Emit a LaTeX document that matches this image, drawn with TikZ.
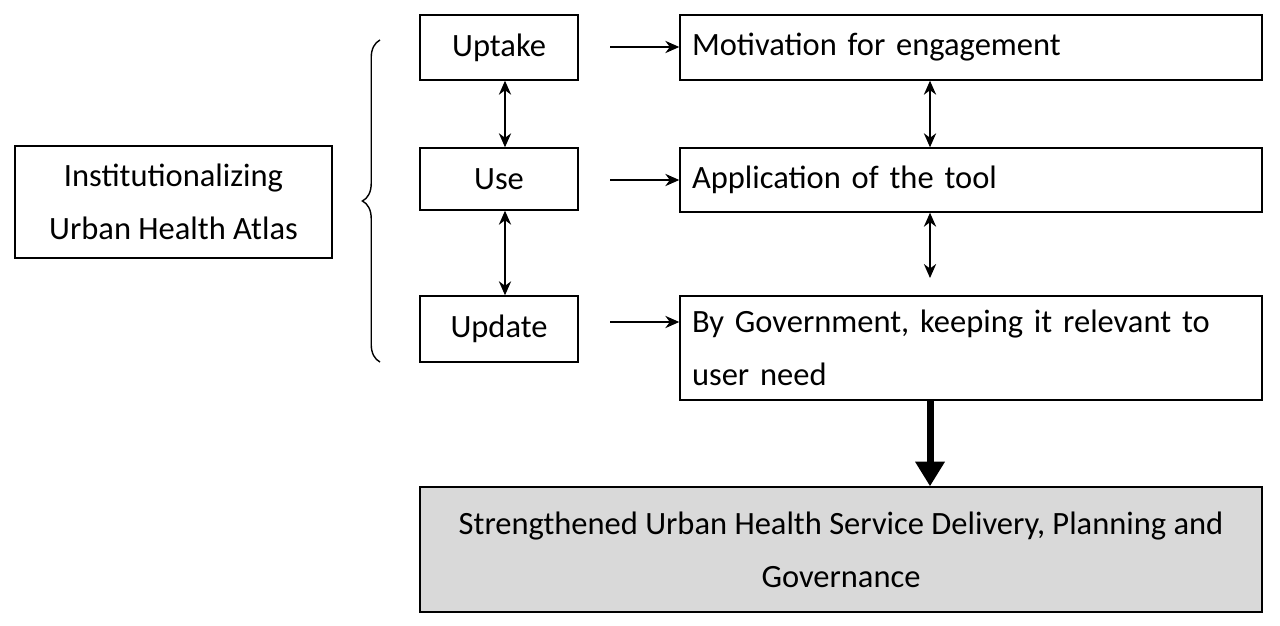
\documentclass[tikz,border=0pt]{standalone}
\usepackage{fontspec}
\setmainfont{Carlito}
\usetikzlibrary{arrows.meta,decorations.pathreplacing}
\begin{document}
\begin{tikzpicture}[x=0.02cm,y=-0.02cm,
		box/.style={draw, thick, rectangle, inner sep=0pt, font=\fontsize{18.5}{30}\selectfont},
		lbox/.style={box, align=left, text width=558*0.02cm, inner xsep=12*0.02cm, minimum width=582*0.02cm},
		link/.style={thick, -{Stealth[length=8pt,width=7pt]}},
		both/.style={thick, {Stealth[length=8pt,width=7pt]}-{Stealth[length=8pt,width=7pt]}}]
	\useasboundingbox (0,0) rectangle (1280,625);

	% left side
	\node[box, align=center, minimum width=317*0.02cm, minimum height=112*0.02cm] (inst) at (173.5,202) {Institutionalizing\\Urban Health Atlas};
	\draw[thick, decorate, decoration={brace, amplitude=10pt}] (380,362) -- (380,40);

	% stages
	\node[box, minimum width=158*0.02cm, minimum height=65*0.02cm] (uptake) at (499,47.5) {Uptake};
	\node[box, minimum width=158*0.02cm, minimum height=62*0.02cm] (use) at (499,179) {Use};
	\node[box, minimum width=158*0.02cm, minimum height=66*0.02cm] (update) at (499,329) {Update};

	% descriptions
	\node[lbox, minimum height=65*0.02cm] (motiv) at (971,47.5) {Motivation for engagement};
	\node[lbox, minimum height=64*0.02cm] (appl) at (971,180) {Application of the tool};
	\node[lbox, minimum height=104*0.02cm] (gov) at (971,348) {By Government, keeping it relevant to\\user need};

	% outcome
	\node[box, fill=gray!30, align=center, minimum width=842*0.02cm, minimum height=125*0.02cm] (result) at (841,549.5) {Strengthened Urban Health Service Delivery, Planning and\\Governance};

	% connectors
	\draw[link] (610,47) -- (motiv.west |- 0,47);
	\draw[link] (610,180) -- (appl.west |- 0,180);
	\draw[link] (610,322) -- (gov.west |- 0,322);
	\draw[both] (uptake.south -| 505,0) -- (use.north -| 505,0);
	\draw[both] (use.south -| 505,0) -- (update.north -| 505,0);
	\draw[both] (motiv.south -| 930,0) -- (appl.north -| 930,0);
	\draw[both] (appl.south -| 930,0) -- (930,278);
	\draw[line width=4pt, -{Triangle[length=14pt,width=16pt]}] (gov.south -| 930,0) -- (result.north -| 930,0);
\end{tikzpicture}
\end{document}
